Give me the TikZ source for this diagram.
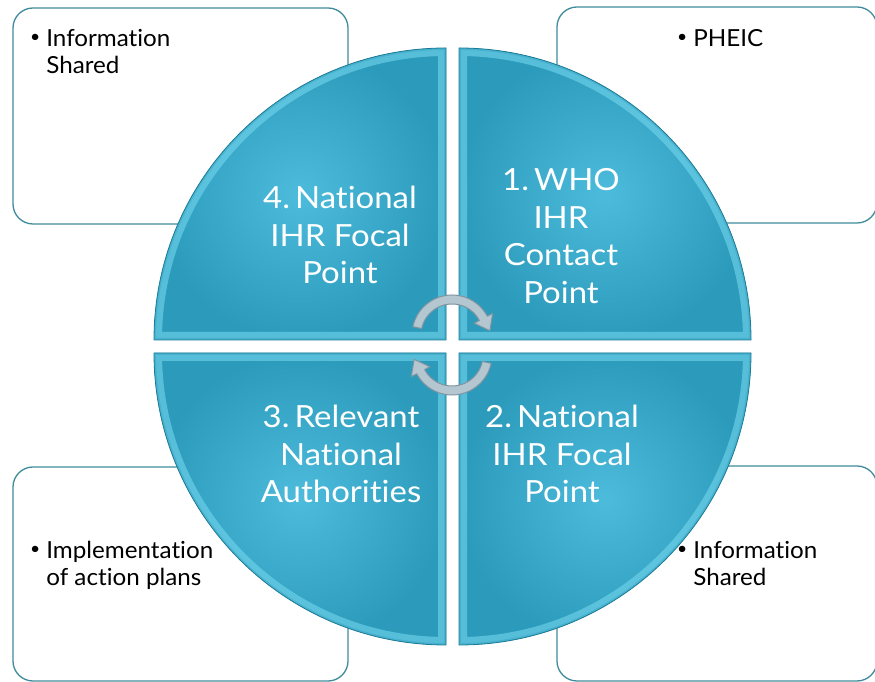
\documentclass[tikz,border=0pt]{standalone}
\usepackage{fontspec}
\setmainfont{Lato}
\newfontfamily\quadfont[FakeStretch=1.08, Ligatures=NoCommon]{Lato}
\newfontfamily\boxfont[FakeStretch=1.03, Ligatures=NoCommon]{Lato}
\definecolor{boxline}{HTML}{3F8C9C}
\definecolor{quadin}{HTML}{4DBCDC}
\definecolor{quadout}{HTML}{2C9BBB}
\definecolor{rimlight}{HTML}{74D6EE}
\definecolor{rimdark}{HTML}{1C7A94}
\definecolor{arrfill}{HTML}{B4C7D1}
\definecolor{arrline}{HTML}{7E95A1}

% one quarter of the disc: corner point and start angle
\newcommand\quarterdisc[3]{(#1,#2) -- ++(#3:292) arc[start angle=#3, delta angle=90, radius=292] -- cycle}
% a shaded quarter with a bevelled rim
\newcommand\drawquarter[3]{%
  \shade[inner color=quadin, outer color=quadout] \quarterdisc{#1}{#2}{#3};
  \begin{scope}
    \clip \quarterdisc{#1}{#2}{#3};
    \draw[rimlight, opacity=0.6, line width=16pt, line join=miter] \quarterdisc{#1}{#2}{#3};
    \draw[quadout, opacity=0.35, line width=4pt] \quarterdisc{#1}{#2}{#3};
  \end{scope}
  \draw[rimdark, line width=0.8pt] \quarterdisc{#1}{#2}{#3};
}
% curved arrow of the cycle symbol, drawn around a local origin
\newcommand\cyclearc{%
  (-39.13,18.32) arc[start angle=168, end angle=28, radius=40]
  -- (40.62,31.60) -- (37.91,14.31) -- (22.07,21.74) -- (27.37,24.55)
  arc[start angle=28, end angle=168, radius=31] -- cycle}
% small list bullet
\newcommand\listdot{\raisebox{4pt}{\fontsize{17}{17}\selectfont•}}

\begin{document}
\begin{tikzpicture}[x=1pt,y=1pt,
  infobox/.style={draw=boxline, line width=1.3pt, fill=white, rounded corners=20pt},
  quadtext/.style={text=white, align=center, inner sep=0pt,
                   font=\quadfont\fontsize{30.5}{37.5}\selectfont},
  boxtext/.style={text=black, inner sep=0pt, anchor=north west,
                  font=\boxfont\fontsize{23.5}{27}\selectfont},
  cyclearrow/.style={fill=arrfill, draw=arrline, line width=1pt, line join=round}]
\useasboundingbox (0,0) rectangle (875,682);
\fill[white] (0,0) rectangle (875,682);

% outcome boxes in the four corners
\draw[infobox] (13,458) rectangle (348,674);
\draw[infobox] (557,459) rectangle (877,675);
\draw[infobox] (13,1) rectangle (348,215);
\draw[infobox] (557,1) rectangle (877,216);

\node[boxtext] (outTL) at (30,655)
  {\begin{tabular}{@{}l@{\hspace{6pt}}l@{}}\listdot&Information\\&Shared\end{tabular}};
\node[boxtext] (outTR) at (677,655)
  {\begin{tabular}{@{}l@{\hspace{6pt}}l@{}}\listdot&PHEIC\end{tabular}};
\node[boxtext] (outBL) at (30,143)
  {\begin{tabular}{@{}l@{\hspace{6pt}}l@{}}\listdot&Implementation\\&of action plans\end{tabular}};
\node[boxtext] (outBR) at (677,143)
  {\begin{tabular}{@{}l@{\hspace{6pt}}l@{}}\listdot&Information\\&Shared\end{tabular}};

% the four quarters of the disc
\drawquarter{446}{342}{90}
\drawquarter{459}{342}{0}
\drawquarter{446}{329}{180}
\drawquarter{459}{329}{270}

\node[quadtext] (step4) at (340,447) {4.\,National\\IHR Focal\\Point};
\node[quadtext] (step1) at (561,446) {1.\,WHO\\IHR\\Contact\\Point};
\node[quadtext] (step3) at (341,228) {3.\,Relevant\\National\\Authorities};
\node[quadtext] (step2) at (562,228) {2.\,National\\IHR Focal\\Point};

% cycle symbol in the middle
\begin{scope}[shift={(452,337)}]
  \draw[cyclearrow] \cyclearc;
\end{scope}
\begin{scope}[shift={(452,337)}, rotate=180]
  \draw[cyclearrow] \cyclearc;
\end{scope}
\end{tikzpicture}
\end{document}
